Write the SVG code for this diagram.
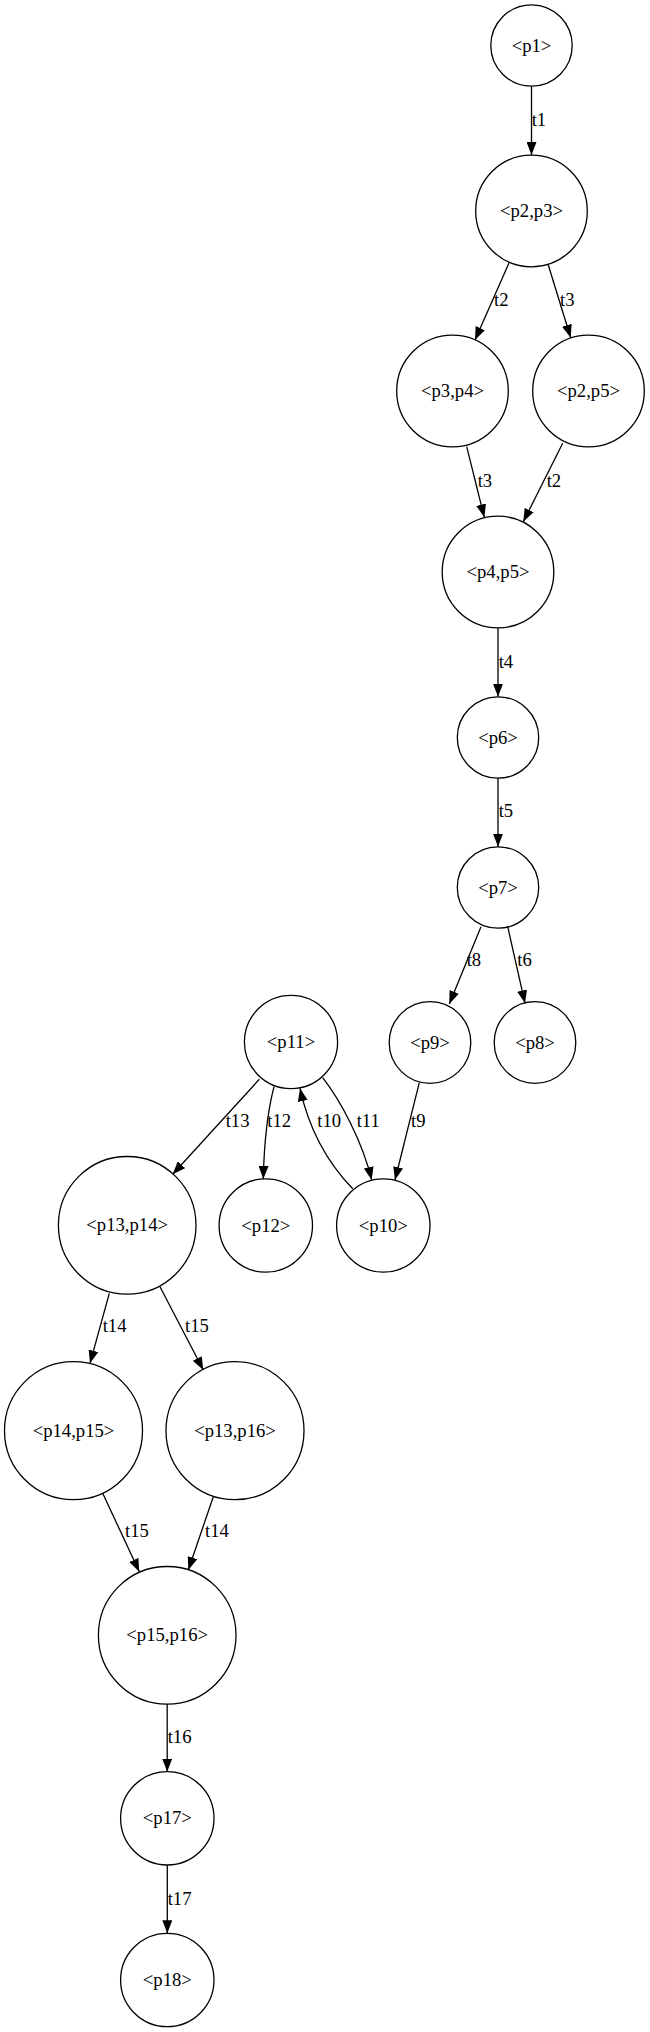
<svg xmlns="http://www.w3.org/2000/svg" width="650" height="2032" viewBox="0 0 650 2032">
<style>
.n{fill:none;stroke:#000;stroke-width:1.3}
.e{fill:none;stroke:#000;stroke-width:1.3;marker-end:url(#ah)}
text{font-family:"Liberation Serif","Times New Roman",serif;font-size:18.67px;fill:#000}
.c{text-anchor:middle}
</style>
<defs>
<marker id="ah" viewBox="0 0 13 10" refX="13" refY="5" markerWidth="13" markerHeight="10" markerUnits="userSpaceOnUse" orient="auto">
<path d="M0,0 L13,5 L0,10 z" fill="#000"/>
</marker>
</defs>
<rect width="650" height="2032" fill="#fff"/>
<g id="edges">
<path class="e" d="M531.5,86.2 L531.5,155"/>
<path class="e" d="M509,263 L475,340"/>
<path class="e" d="M548.3,265 L570.7,337.7"/>
<path class="e" d="M466.7,446.7 L484.3,517.3"/>
<path class="e" d="M562.7,443.3 L523.3,521.7"/>
<path class="e" d="M498,628 L498,696.7"/>
<path class="e" d="M498,778.2 L498,846.7"/>
<path class="e" d="M481,926.7 L449.3,1004"/>
<path class="e" d="M507.7,926.7 L525,1003.3"/>
<path class="e" d="M419.3,1082.7 L395,1180"/>
<path class="e" d="M259.3,1079.3 L172.7,1174.3"/>
<path class="e" d="M274,1086.7 C268,1110 264,1145 263.3,1179"/>
<path class="e" d="M352.7,1188.7 C325,1160 308,1125 300,1088.3"/>
<path class="e" d="M322.7,1077.7 C340,1100 362,1140 371.7,1180"/>
<path class="e" d="M109.3,1293.3 L90,1363.3"/>
<path class="e" d="M160,1286.7 L203.3,1370"/>
<path class="e" d="M102.7,1493.3 L139.3,1571.7"/>
<path class="e" d="M213.3,1496.7 L188.3,1570"/>
<path class="e" d="M167.2,1704 L167.2,1771.7"/>
<path class="e" d="M167.3,1865 L167.3,1933.3"/>
<text x="531.7" y="126">t1</text>
<text x="494" y="306">t2</text>
<text x="560" y="306">t3</text>
<text x="477.7" y="486.7">t3</text>
<text x="546.7" y="486.7">t2</text>
<text x="498.7" y="668">t4</text>
<text x="498.7" y="816.7">t5</text>
<text x="466.7" y="966">t8</text>
<text x="517.3" y="966">t6</text>
<text x="225.7" y="1126.7">t13</text>
<text x="267.3" y="1126.7">t12</text>
<text x="317.3" y="1126.7">t10</text>
<text x="356.7" y="1126.7">t11</text>
<text x="411" y="1126.7">t9</text>
<text x="102.7" y="1331.7">t14</text>
<text x="185" y="1331.7">t15</text>
<text x="125" y="1537.3">t15</text>
<text x="205" y="1537.3">t14</text>
<text x="167.7" y="1742.7">t16</text>
<text x="167.7" y="1905">t17</text>
</g>
<g id="p1"><circle class="n" cx="531.5" cy="45.5" r="40.7"/><text class="c" x="531.5" y="51.5">&lt;p1&gt;</text></g>
<g id="p2p3"><circle class="n" cx="531.5" cy="211" r="55.8"/><text class="c" x="531.5" y="217">&lt;p2,p3&gt;</text></g>
<g id="p3p4"><circle class="n" cx="452.5" cy="391" r="55.8"/><text class="c" x="452.5" y="397">&lt;p3,p4&gt;</text></g>
<g id="p2p5"><circle class="n" cx="588.5" cy="391" r="55.8"/><text class="c" x="588.5" y="397">&lt;p2,p5&gt;</text></g>
<g id="p4p5"><circle class="n" cx="498" cy="572" r="55.8"/><text class="c" x="498" y="578">&lt;p4,p5&gt;</text></g>
<g id="p6"><circle class="n" cx="498" cy="737.5" r="40.7"/><text class="c" x="498" y="743.5">&lt;p6&gt;</text></g>
<g id="p7"><circle class="n" cx="498" cy="887.5" r="40.7"/><text class="c" x="498" y="893.5">&lt;p7&gt;</text></g>
<g id="p9"><circle class="n" cx="430" cy="1042.5" r="40.8"/><text class="c" x="430" y="1048.5">&lt;p9&gt;</text></g>
<g id="p8"><circle class="n" cx="535" cy="1042.5" r="40.8"/><text class="c" x="535" y="1048.5">&lt;p8&gt;</text></g>
<g id="p11"><circle class="n" cx="291" cy="1042" r="46.6"/><text class="c" x="291" y="1048">&lt;p11&gt;</text></g>
<g id="p12"><circle class="n" cx="265.8" cy="1225.5" r="46.7"/><text class="c" x="265.8" y="1231.5">&lt;p12&gt;</text></g>
<g id="p10"><circle class="n" cx="383.3" cy="1225.5" r="46.7"/><text class="c" x="383.3" y="1231.5">&lt;p10&gt;</text></g>
<g id="p13p14"><circle class="n" cx="127.2" cy="1225.3" r="68.8"/><text class="c" x="127.2" y="1231.3">&lt;p13,p14&gt;</text></g>
<g id="p14p15"><circle class="n" cx="73.5" cy="1430.7" r="69"/><text class="c" x="73.5" y="1436.7">&lt;p14,p15&gt;</text></g>
<g id="p13p16"><circle class="n" cx="235" cy="1430.7" r="69"/><text class="c" x="235" y="1436.7">&lt;p13,p16&gt;</text></g>
<g id="p15p16"><circle class="n" cx="167.2" cy="1635.3" r="68.8"/><text class="c" x="167.2" y="1641.3">&lt;p15,p16&gt;</text></g>
<g id="p17"><circle class="n" cx="167.3" cy="1818.3" r="46.7"/><text class="c" x="167.3" y="1824.3">&lt;p17&gt;</text></g>
<g id="p18"><circle class="n" cx="167.3" cy="1980" r="46.7"/><text class="c" x="167.3" y="1986">&lt;p18&gt;</text></g>
</svg>
